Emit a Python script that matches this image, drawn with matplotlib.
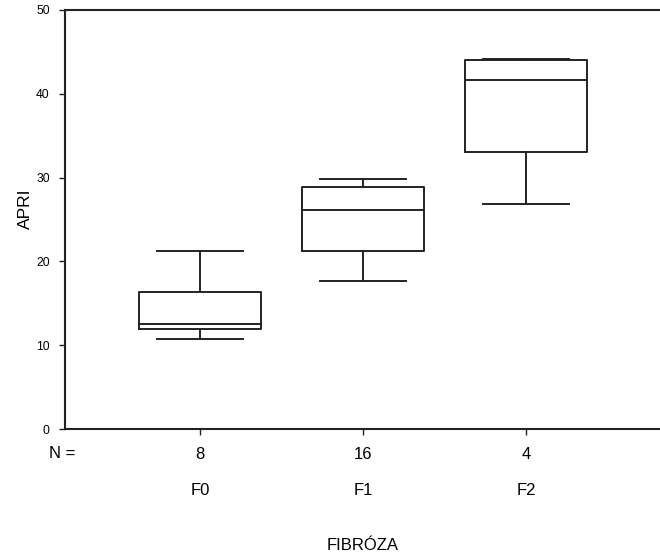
##APRI podle stupne fibrozy (boxplot ve stylu SPSS)
import matplotlib
matplotlib.use('Agg')
import matplotlib.pyplot as plt
import matplotlib.transforms as mtransforms

plt.rcParams['font.family'] = ['Liberation Sans', 'DejaVu Sans']

#data
categories = ['F0', 'F1', 'F2']
counts = [8, 16, 4]
whisker_low = [10.7, 17.7, 26.8]
q1 = [11.9, 21.3, 33.1]
median = [12.5, 26.1, 41.7]
q3 = [16.3, 28.9, 44.0]
whisker_high = [21.2, 29.8, 44.2]

line_color = '#222222'

fig = plt.figure(figsize=(6.6, 5.55), dpi=100)
ax = fig.add_axes([65 / 660, 126 / 555, 595 / 660, 419 / 555])

stats = []
for i in range(len(categories)):
    stats.append(dict(label=categories[i], whislo=whisker_low[i], q1=q1[i], med=median[i],
                      q3=q3[i], whishi=whisker_high[i], fliers=[]))

positions = list(range(1, len(categories) + 1))
lw = 1.4
ax.bxp(stats, positions=positions, widths=0.75, capwidths=0.53, showfliers=False,
       boxprops=dict(color=line_color, linewidth=lw),
       medianprops=dict(color=line_color, linewidth=lw),
       whiskerprops=dict(color=line_color, linewidth=lw),
       capprops=dict(color=line_color, linewidth=lw))

#osy
ax.set_xlim(0.172, 3.822)
ax.set_ylim(0, 50)
ax.set_yticks([0, 10, 20, 30, 40, 50])
ax.tick_params(axis='y', labelsize=8.7, length=4, width=1, pad=7, color=line_color)
ax.tick_params(axis='x', labelsize=12, length=4, width=1, pad=9, color=line_color)
ax.set_xticks(positions)
ax.set_xticklabels([str(c) for c in counts])
ax.spines['right'].set_visible(False)
for s in ['left', 'top', 'bottom']:
    ax.spines[s].set_linewidth(1.5)
    ax.spines[s].set_color(line_color)

#popisky kategorii pod pocty
trans = mtransforms.blended_transform_factory(ax.transData, ax.transAxes)
for p, c in zip(positions, categories):
    ax.text(p, -0.1456, c, transform=trans, ha='center', va='center', fontsize=12)

fig.text(49 / 660, 1 - 454 / 555, 'N =', ha='left', va='center', fontsize=12)
ax.text(0.5, -0.277, 'FIBRÓZA', transform=ax.transAxes, ha='center', va='center', fontsize=12)
fig.text(25 / 660, 1 - 209 / 555, 'APRI', rotation=90, ha='center', va='center', fontsize=12.5)

plt.savefig('out.png', dpi=100)
